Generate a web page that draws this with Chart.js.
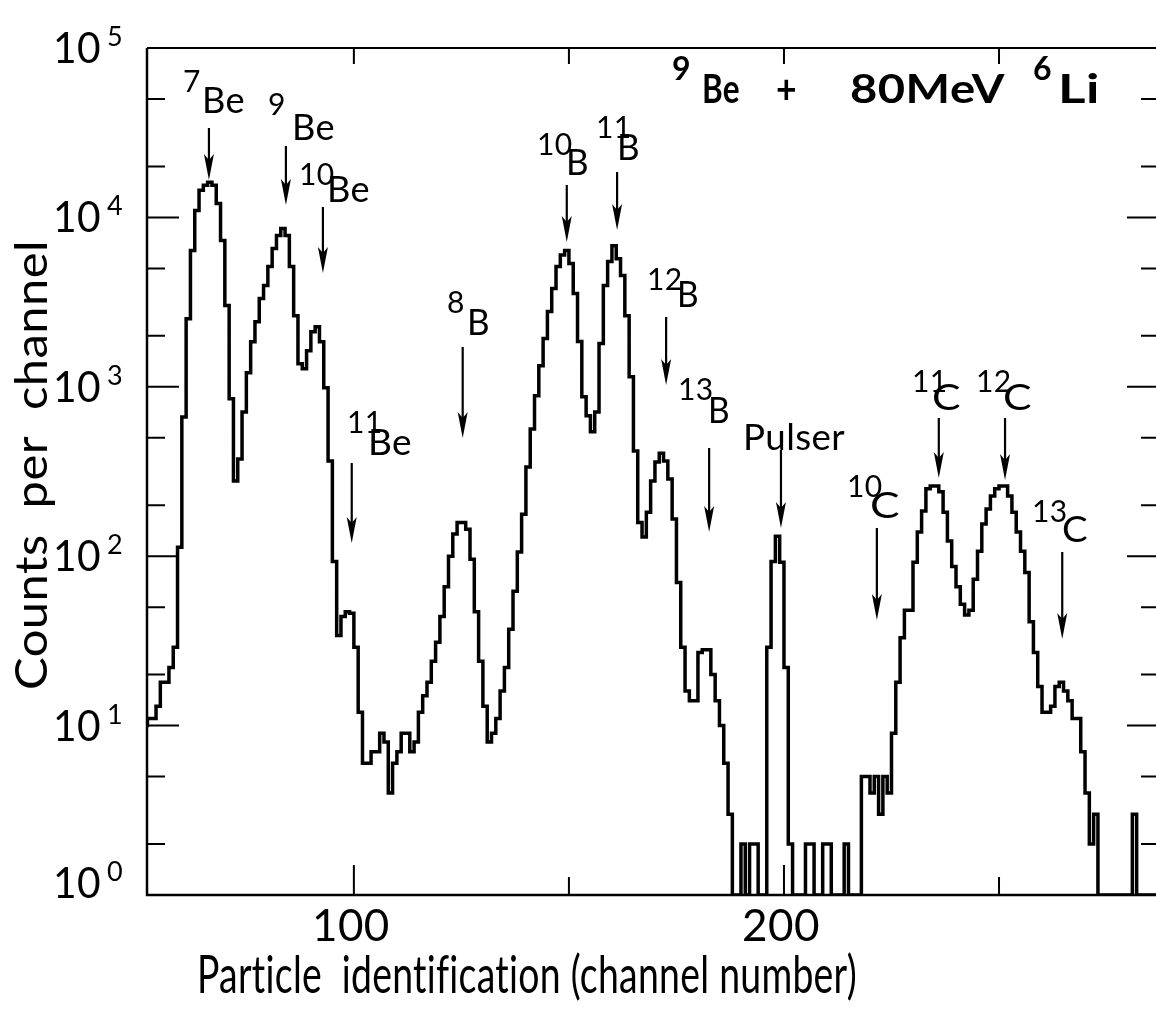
<!DOCTYPE html>
<html>
<head>
<meta charset="utf-8">
<script src="https://cdn.jsdelivr.net/npm/chart.js@4.4.1/dist/chart.umd.min.js"></script>
<style>
  html, body { margin: 0; padding: 0; background: #fff; }
  #wrap { width: 1156px; height: 1010px; }
</style>
</head>
<body>
<div id="wrap"><canvas id="spectrum" width="1156" height="1010"></canvas></div>
<script>
// Particle identification spectrum, 9Be + 80 MeV 6Li
// counts per channel, one value per channel starting at firstChannel
const firstChannel = 51;
const counts = [
  10, 11, 11, 13, 18, 18, 22, 29, 113, 664,                 // 51-60
  2520, 6380, 11000, 14450, 15460, 16100, 15460, 12100, 7310, 3015, // 61-70
  849, 278, 375, 711, 1211, 1847, 2425, 3320, 3960, 5130,  // 71-80
  6560, 7820, 8610, 7820, 5130, 2630, 1370, 1278, 1633, 2115, // 81-90
  2265, 1847, 987, 365, 93, 34, 44, 47, 46, 29,            // 91-100
  12, 6, 6, 7, 7, 9, 8, 4, 6, 7,                           // 101-110
  9, 9, 7, 8, 12, 15, 18, 24, 31, 44,                      // 111-120
  66, 100, 135, 158, 158, 144, 96, 47, 24, 13,             // 121-130
  8, 9, 11, 16, 22, 37, 62, 106, 177, 336,                 // 131-140
  564, 885, 1330, 1925, 2780, 3800, 5130, 6000, 6380, 5340, // 141-150
  3550, 1850, 873, 674, 542, 711, 1800, 3960, 5500, 6800,  // 151-160
  5700, 4540, 2630, 1146, 418, 158, 130, 182, 278, 360,    // 161-170
  405, 365, 286, 166, 70, 29, 16, 14, 14, 27,              // 171-180
  28, 28, 20, 14, 10, 6, 3, 1, 1, 2,                       // 181-190
  1, 2, 2, 1, 1, 29, 93, 131, 92, 22,                      // 191-200
  2, 1, 1, 1, 2, 2, 1, 1, 2, 2,                            // 201-210
  1, 1, 1, 2, 1, 1, 1, 5, 5, 4,                            // 211-220
  5, 3, 5, 4, 9, 18, 33, 48, 48, 92,                       // 221-230
  139, 185, 250, 260, 260, 240, 182, 123, 87, 66,          // 231-240
  52, 45, 48, 73, 107, 155, 190, 227, 250, 260,            // 241-250
  260, 227, 182, 139, 107, 80, 41, 27, 17, 12,             // 251-260
  12, 13, 17, 18, 16, 14, 11, 11, 7, 4,                    // 261-270
  2, 3, 1, 1, 1, 1, 1, 1, 1, 1,                            // 271-280
  3, 1, 1, 1, 1, 1, 1                                      // 281-287
];

// axis ranges and ticks
const xRange = [51.9, 286.5];
const yRange = [1, 1e5];
const xMajorTicks = [100, 200];
const xMinorTicks = [150, 250];
const xTickLabels = ['100', '200'];
const yDecades = [0, 1, 2, 3, 4, 5];
const yMinorFactors = [2, 5];

// isotope markers: mass number, element, channel the arrow points at
const markMass = ['7', '9', '10', '11', '8', '10', '11', '12', '13', '', '10', '11', '12', '13'];
const markElement = ['Be', 'Be', 'Be', 'Be', 'B', 'B', 'B', 'B', 'B', 'Pulser', 'C', 'C', 'C', 'C'];
const markChannel = [66.3, 84.2, 92.8, 99.5, 125.3, 149.5, 161.2, 172.6, 182.6, 199.3, 221.6, 236, 251.4, 264.7];

// page layout for the markers (pixels): arrow tail y, arrow tip y,
// mass label left / baseline, element label left / baseline / width
const markLayout = [
  { tail: 128, tip: 180, mx: 183, my: 92,  ex: 202, ey: 113, ew: 43 },
  { tail: 146, tip: 205, mx: 268, my: 115, ex: 292, ey: 140, ew: 43 },
  { tail: 207, tip: 273, mx: 299, my: 185, ex: 327, ey: 202, ew: 43 },
  { tail: 463, tip: 543, mx: 347, my: 433, ex: 368, ey: 455, ew: 44 },
  { tail: 347, tip: 438, mx: 447, my: 313, ex: 467, ey: 335, ew: 23 },
  { tail: 185, tip: 242, mx: 537, my: 155, ex: 566, ey: 175, ew: 23 },
  { tail: 172, tip: 230, mx: 596, my: 138, ex: 617, ey: 160, ew: 23 },
  { tail: 317, tip: 385, mx: 647, my: 290, ex: 677, ey: 307, ew: 22 },
  { tail: 448, tip: 532, mx: 678, my: 400, ex: 708, ey: 423, ew: 22 },
  { tail: 450, tip: 528, mx: 0,   my: 0,   ex: 743, ey: 450, ew: 102 },
  { tail: 528, tip: 620, mx: 847, my: 497, ex: 870, ey: 518, ew: 30 },
  { tail: 418, tip: 478, mx: 912, my: 392, ex: 932, ey: 410, ew: 29 },
  { tail: 418, tip: 480, mx: 976, my: 392, ex: 1003, ey: 410, ew: 29 },
  { tail: 552, tip: 639, mx: 1032, my: 522, ex: 1062, ey: 542, ew: 26 }
];

const FONT = 'Lato, "DejaVu Sans", sans-serif';

// draw text squeezed/stretched to a given width
function fitText(ctx, text, x, y, size, width, weight, align) {
  ctx.save();
  ctx.font = (weight || 'normal') + ' ' + size + 'px ' + FONT;
  ctx.textAlign = 'left';
  ctx.textBaseline = 'alphabetic';
  ctx.letterSpacing = '0.4px'; // also keeps "fi" from turning into a ligature
  const w = ctx.measureText(text).width;
  const sx = width ? width / w : 1;
  ctx.translate(align === 'center' ? x - (w * sx) / 2 : x, y);
  ctx.scale(sx, 1);
  ctx.fillText(text, 0, 0);
  ctx.restore();
}

function drawArrow(ctx, x, tail, tip) {
  ctx.beginPath();
  ctx.lineWidth = 2.2;
  ctx.moveTo(x, tail);
  ctx.lineTo(x, tip - 12);
  ctx.stroke();
  ctx.beginPath();
  ctx.moveTo(x, tip);
  ctx.lineTo(x - 5, tip - 26);
  ctx.lineTo(x, tip - 20);
  ctx.lineTo(x + 5, tip - 26);
  ctx.closePath();
  ctx.fill();
}

// axes, ticks, labels and annotations
const framePlugin = {
  id: 'frame',
  afterDatasetsDraw(chart) {
    const ctx = chart.ctx;
    const area = chart.chartArea;
    const xs = chart.scales.x;
    const ys = chart.scales.y;
    ctx.save();
    ctx.strokeStyle = '#000';
    ctx.fillStyle = '#000';
    ctx.lineCap = 'butt';

    // frame: left, bottom, top
    ctx.lineWidth = 2.5;
    ctx.beginPath();
    ctx.moveTo(area.left, area.top);
    ctx.lineTo(area.left, area.bottom);
    ctx.lineTo(area.right, area.bottom);
    ctx.stroke();
    ctx.lineWidth = 2;
    ctx.beginPath();
    ctx.moveTo(area.left, area.top);
    ctx.lineTo(area.right, area.top);
    ctx.stroke();

    // y ticks, both sides, pointing in
    ctx.lineWidth = 2;
    yDecades.forEach(d => {
      const v = Math.pow(10, d);
      const py = ys.getPixelForValue(v);
      ctx.beginPath();
      ctx.moveTo(area.left, py); ctx.lineTo(area.left + 32, py);
      ctx.moveTo(area.right, py); ctx.lineTo(area.right - 29, py);
      ctx.stroke();
      if (d < 5) {
        yMinorFactors.forEach(f => {
          const my = ys.getPixelForValue(v * f);
          ctx.beginPath();
          ctx.moveTo(area.left, my); ctx.lineTo(area.left + 18, my);
          ctx.moveTo(area.right, my); ctx.lineTo(area.right - 15, my);
          ctx.stroke();
        });
      }
      // label "10" with exponent; the bottom one sits a little higher
      const ly = d === 0 ? py - 12 : py;
      fitText(ctx, '10', 53, ly + 15, 42, 48);
      fitText(ctx, String(d), 107, ly - 2, 27, 0);
    });

    // x ticks, bottom and top
    xMajorTicks.concat(xMinorTicks).forEach(v => {
      const px = xs.getPixelForValue(v);
      const major = xMajorTicks.includes(v);
      ctx.beginPath();
      ctx.moveTo(px, area.bottom); ctx.lineTo(px, area.bottom - (major ? 30 : 18));
      ctx.moveTo(px, area.top); ctx.lineTo(px, area.top + 16);
      ctx.stroke();
    });
    xMajorTicks.forEach((v, i) => {
      fitText(ctx, xTickLabels[i], xs.getPixelForValue(v) - 3, 941, 44, 0, 'normal', 'center');
    });

    // axis titles
    fitText(ctx, 'Particle  identification (channel number)', 197, 993, 52, 660);
    ctx.save();
    ctx.translate(47, 690);
    ctx.rotate(-Math.PI / 2);
    fitText(ctx, 'Counts  per  channel', 0, 0, 44, 450);
    ctx.restore();

    // reaction label
    fitText(ctx, '9', 672, 80, 32, 0, 'bold');
    fitText(ctx, 'Be', 702, 103, 40, 38, 'bold');
    fitText(ctx, '+', 776, 103, 40, 21, 'bold');
    fitText(ctx, '80MeV', 850, 103, 40, 155, 'bold');
    fitText(ctx, '6', 1033, 80, 32, 0, 'bold');
    fitText(ctx, 'Li', 1058, 103, 40, 42, 'bold');

    // isotope arrows and labels
    markChannel.forEach((ch, i) => {
      const lay = markLayout[i];
      drawArrow(ctx, xs.getPixelForValue(ch), lay.tail, lay.tip);
      if (markMass[i]) fitText(ctx, markMass[i], lay.mx, lay.my, 30, 0);
      fitText(ctx, markElement[i], lay.ex, lay.ey, 37, lay.ew);
    });
    ctx.restore();
  }
};

const points = counts.map((c, i) => ({ x: firstChannel + i, y: c }));
points.push({ x: firstChannel + counts.length, y: counts[counts.length - 1] });

new Chart(document.getElementById('spectrum'), {
  type: 'line',
  data: {
    datasets: [{
      data: points,
      stepped: true,
      borderColor: '#000',
      borderWidth: 3.5,
      borderJoinStyle: 'miter',
      pointRadius: 0,
      fill: false
    }]
  },
  options: {
    responsive: false,
    animation: false,
    devicePixelRatio: 1,
    layout: { padding: { left: 147, top: 48, right: 0, bottom: 115 } },
    scales: {
      x: { type: 'linear', min: xRange[0], max: xRange[1], display: false },
      y: { type: 'logarithmic', min: yRange[0], max: yRange[1], display: false }
    },
    plugins: {
      legend: { display: false },
      tooltip: { enabled: false }
    }
  },
  plugins: [framePlugin]
});
</script>
</body>
</html>
